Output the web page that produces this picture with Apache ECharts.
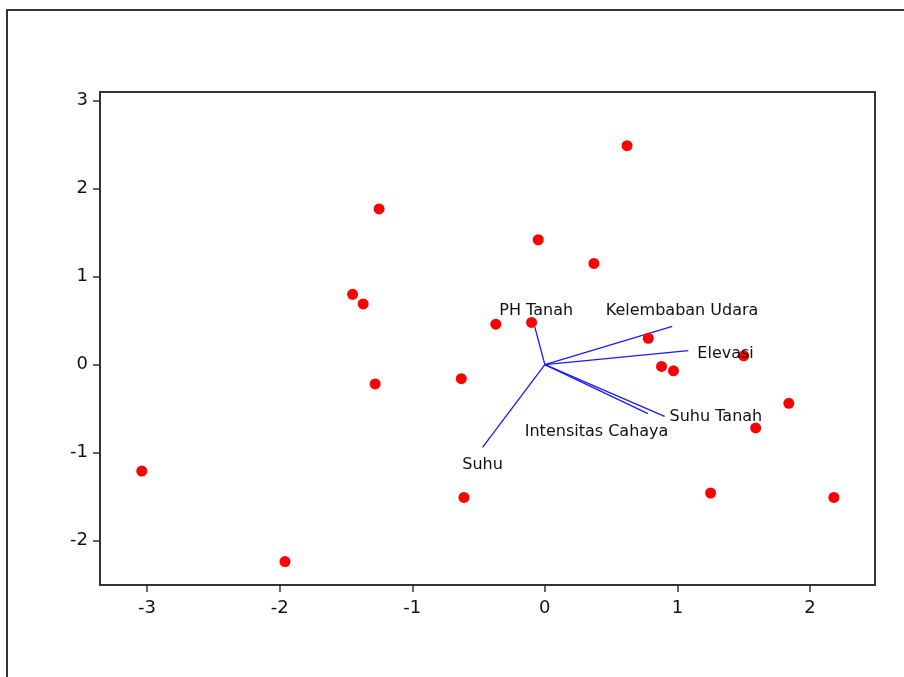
<!DOCTYPE html>
<html>
<head>
<meta charset="utf-8">
<script src="https://cdn.jsdelivr.net/npm/echarts@6/dist/echarts.min.js"></script>
<style>
html,body{margin:0;padding:0;background:#fff;}
#chart{width:904px;height:677px;}
</style>
</head>
<body>
<div id="chart"></div>
<script>
// Scores (red points)
var scoreX = [-3.04, -1.96, -1.25, -1.45, -1.37, -1.28, -0.63, -0.61, -0.37, -0.10, -0.05, 0.37, 0.62, 0.78, 0.88, 0.97, 1.50, 1.84, 1.59, 1.25, 2.18];
var scoreY = [-1.21, -2.24, 1.77, 0.80, 0.69, -0.22, -0.16, -1.51, 0.46, 0.48, 1.42, 1.15, 2.49, 0.30, -0.02, -0.07, 0.10, -0.44, -0.72, -1.46, -1.51];

// Loading vectors (blue lines)
var varNames = ["PH Tanah", "Kelembaban Udara", "Elevasi", "Suhu Tanah", "Intensitas Cahaya", "Suhu"];
var loadX = [-0.076, 0.961, 1.082, 0.903, 0.777, -0.470];
var loadY = [0.430, 0.436, 0.159, -0.589, -0.558, -0.940];
// Label positions for the vectors
var labelX = [-0.065, 1.035, 1.363, 1.29, 0.39, -0.47];
var labelY = [0.615, 0.615, 0.125, -0.59, -0.76, -1.14];

var xTicks = [-3, -2, -1, 0, 1, 2];
var yTicks = [-2, -1, 0, 1, 2, 3];

var chart = echarts.init(document.getElementById('chart'), null, {renderer: 'canvas'});

var series = [];
series.push({
  type: 'scatter',
  symbol: 'circle',
  symbolSize: 11,
  itemStyle: {color: '#ff0000', opacity: 1},
  data: scoreX.map(function (v, i) { return [v, scoreY[i]]; }),
  z: 3
});
varNames.forEach(function (n, i) {
  series.push({
    type: 'line',
    name: n,
    symbol: 'none',
    lineStyle: {color: '#1a1aff', width: 1.3, opacity: 1},
    data: [[0, 0], [loadX[i], loadY[i]]],
    silent: true,
    z: 2
  });
});
series.push({
  type: 'scatter',
  symbolSize: 0,
  itemStyle: {opacity: 1},
  data: varNames.map(function (n, i) { return {value: [labelX[i], labelY[i]], name: n}; }),
  label: {
    show: true,
    position: 'inside',
    formatter: '{b}',
    color: '#111',
    opacity: 1,
    fontFamily: 'DejaVu Sans',
    fontSize: 16
  },
  z: 4
});

var axisCommon = {
  type: 'value',
  splitLine: {show: false},
  axisLine: {show: true, onZero: false, lineStyle: {color: '#333', width: 2}},
  axisTick: {show: true, length: 7, lineStyle: {color: '#333', width: 1.5}},
  axisLabel: {color: '#111', fontFamily: 'DejaVu Sans', fontSize: 18}
};

var option = {
  backgroundColor: '#ffffff',
  animation: false,
  grid: {left: 100, right: 29, top: 92, bottom: 92, show: true, borderColor: '#333', borderWidth: 2, containLabel: false},
  xAxis: echarts.util.merge({
    min: -3.355, max: 2.49,
    axisTick: {customValues: xTicks},
    axisLabel: {customValues: xTicks, margin: 14}
  }, axisCommon),
  yAxis: echarts.util.merge({
    min: -2.506, max: 3.10,
    axisTick: {customValues: yTicks},
    axisLabel: {customValues: yTicks, margin: 12}
  }, axisCommon),
  graphic: [{
    type: 'rect',
    shape: {x: 7, y: 10, width: 1000, height: 1000},
    style: {fill: 'none', stroke: '#333', lineWidth: 2},
    silent: true
  }],
  series: series
};
chart.setOption(option);
</script>
</body>
</html>
